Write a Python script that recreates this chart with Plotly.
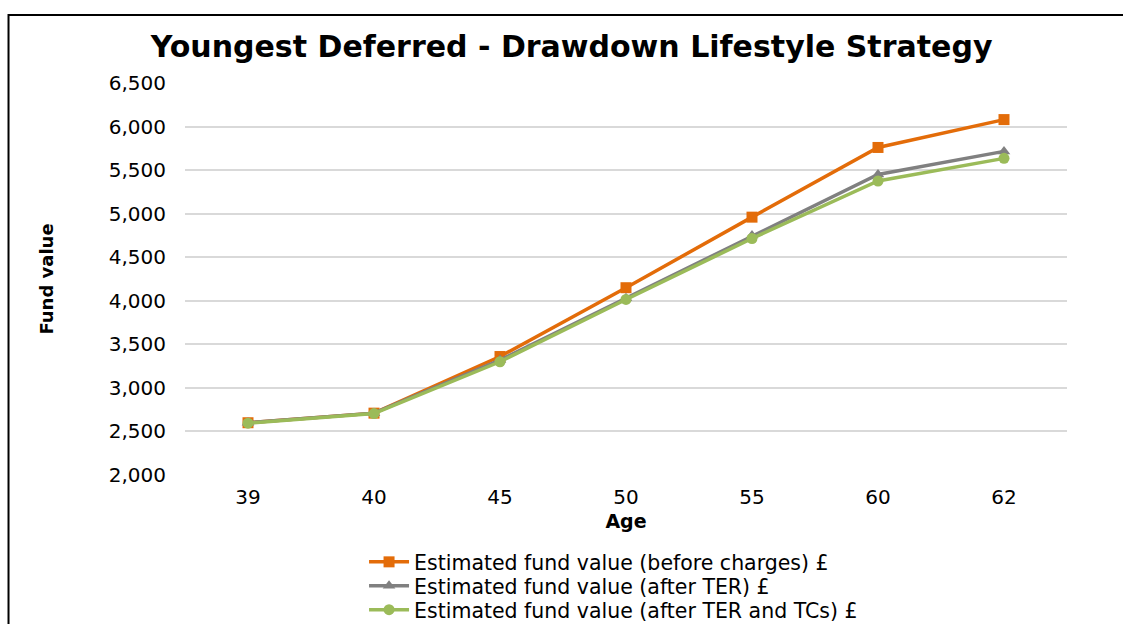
import plotly.graph_objects as go

ages = ["39", "40", "45", "50", "55", "60", "62"]
before_charges = [2600, 2710, 3360, 4150, 4960, 5760, 6080]
after_ter = [2600, 2710, 3320, 4030, 4750, 5450, 5715]
after_ter_tcs = [2595, 2705, 3300, 4015, 4715, 5375, 5635]

series = [
    ("Estimated fund value (before charges) £", before_charges, "#E36C09", "square", "legend"),
    ("Estimated fund value (after TER) £", after_ter, "#808080", "triangle-up", "legend2"),
    ("Estimated fund value (after TER and TCs) £", after_ter_tcs, "#9BBB59", "circle", "legend3"),
]

fig = go.Figure()
for name, vals, color, symbol, leg in series:
    fig.add_trace(go.Scatter(
        x=ages, y=vals, name=name, mode="lines+markers",
        line=dict(color=color, width=3.5),
        marker=dict(symbol=symbol, size=11, color=color),
        legend=leg,
    ))

font_family = "DejaVu Sans, Liberation Sans, Arial, sans-serif"


def legend_row(ypos):
    return dict(
        x=0.203, y=ypos, xanchor="left", yanchor="middle",
        orientation="v", font=dict(size=20.5, family=font_family, color="black"),
        bgcolor="rgba(0,0,0,0)", itemwidth=40,
    )


fig.update_layout(
    width=1123, height=624,
    margin=dict(l=185, r=56, t=83, b=149, autoexpand=False),
    paper_bgcolor="white", plot_bgcolor="white",
    font=dict(family=font_family, color="black", size=20),
    title=dict(
        text="<b>Youngest Deferred - Drawdown Lifestyle Strategy</b>",
        x=0.509, xanchor="center", y=0.925, yanchor="middle",
        font=dict(size=30, family=font_family, color="black"),
    ),
    xaxis=dict(
        type="category", range=[-0.5, 6.5],
        showgrid=False, showline=False, zeroline=False,
        ticks="", tickfont=dict(size=20), ticklabelstandoff=8,
        title=dict(text="<b>Age</b>", font=dict(size=19), standoff=6),
    ),
    yaxis=dict(
        range=[2000, 6500], dtick=500, tickformat=",",
        showgrid=True, gridcolor="#D9D9D9", gridwidth=1.5,
        zeroline=False, showline=False, ticks="",
        tickfont=dict(size=20), ticklabelstandoff=18,
        title=dict(text="<b>Fund value</b>", font=dict(size=18), standoff=50),
    ),
    legend=legend_row(-0.222),
    legend2=legend_row(-0.283),
    legend3=legend_row(-0.344),
    showlegend=True,
)

# outer frame of the chart area
fig.add_shape(
    type="rect", xref="paper", yref="paper",
    x0=-0.2001, x1=1.3, y0=-0.6, y1=1.1735,
    line=dict(color="black", width=2), fillcolor="rgba(0,0,0,0)", layer="below",
)

fig.write_html("out.html")
